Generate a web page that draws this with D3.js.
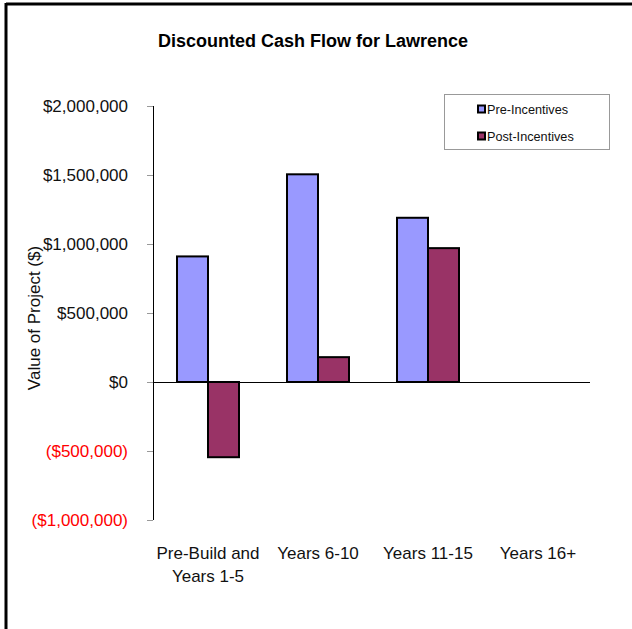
<!DOCTYPE html>
<html>
<head>
<meta charset="utf-8">
<script src="https://cdn.jsdelivr.net/npm/d3@7"></script>
<style>
  body { margin: 0; background: #fff; }
  svg { display: block; font-family: "Liberation Sans", Arial, sans-serif; }
</style>
</head>
<body>
<svg id="chart" width="632" height="629"></svg>
<script>
const categories = [["Pre-Build and", "Years 1-5"], ["Years 6-10"], ["Years 11-15"], ["Years 16+"]];
const seriesNames = ["Pre-Incentives", "Post-Incentives"];
const preIncentives = [910000, 1505000, 1190000, 0];
const postIncentives = [-545000, 180000, 970000, 0];
const yTicks = [-1000000, -500000, 0, 500000, 1000000, 1500000, 2000000];
const colors = ["#9999FF", "#993366"];

const svg = d3.select("#chart");

// outer frame (only top and left edges show)
svg.append("line").attr("x1", 6).attr("x2", 632).attr("y1", 4).attr("y2", 4)
  .attr("stroke", "#000").attr("stroke-width", 3);
svg.append("line").attr("x1", 6).attr("x2", 6).attr("y1", 3).attr("y2", 629)
  .attr("stroke", "#000").attr("stroke-width", 3);

const plot = { left: 153, right: 593, top: 106, bottom: 520 };

const x = d3.scaleBand()
  .domain(d3.range(categories.length))
  .range([plot.left, plot.right]);

const xInner = d3.scaleBand()
  .domain(seriesNames)
  .range([0, 62])
  .paddingInner(0);

const y = d3.scaleLinear()
  .domain([-1000000, 2000000])
  .range([plot.bottom, plot.top]);

// title
svg.append("text")
  .attr("x", 313).attr("y", 47)
  .attr("text-anchor", "middle")
  .attr("font-weight", "bold")
  .attr("font-size", 18)
  .text("Discounted Cash Flow for Lawrence");

// y axis
const fmt = v => {
  const s = "$" + d3.format(",")(Math.abs(v));
  return v < 0 ? "(" + s + ")" : s;
};
const yAxis = svg.append("g")
  .attr("transform", `translate(${plot.left},0)`)
  .call(d3.axisLeft(y).tickValues(yTicks).tickFormat(fmt).tickSize(6).tickPadding(19));
yAxis.select(".domain").attr("stroke", "#000").attr("d", `M0.5,${plot.top}V${plot.bottom}`);
yAxis.selectAll(".tick line").attr("stroke", "#999");
yAxis.selectAll(".tick text")
  .attr("font-size", 17)
  .attr("font-family", "Liberation Sans, Arial, sans-serif")
  .attr("fill", d => d < 0 ? "#FF0000" : "#111");

// y axis title
svg.append("text")
  .attr("transform", `translate(40,${318}) rotate(-90)`)
  .attr("text-anchor", "middle")
  .attr("font-size", 17)
  .attr("fill", "#111")
  .text("Value of Project ($)");

// bars
const rows = categories.map((c, i) => [
  { key: seriesNames[0], i, v: preIncentives[i] },
  { key: seriesNames[1], i, v: postIncentives[i] }
]).flat().filter(d => d.v !== 0);

svg.append("g").selectAll("rect")
  .data(rows)
  .join("rect")
  .attr("x", d => x(d.i) + x.bandwidth() / 2 - 31 + xInner(d.key))
  .attr("width", xInner.bandwidth())
  .attr("y", d => y(Math.max(0, d.v)))
  .attr("height", d => Math.abs(y(d.v) - y(0)))
  .attr("fill", (d) => colors[seriesNames.indexOf(d.key)])
  .attr("stroke", "#000")
  .attr("stroke-width", 2);

// zero line
svg.append("line")
  .attr("x1", plot.left).attr("x2", 590)
  .attr("y1", Math.round(y(0)) + 0.5).attr("y2", Math.round(y(0)) + 0.5)
  .attr("stroke", "#000");

// category labels
const catG = svg.append("g");
categories.forEach((lines, i) => {
  const t = catG.append("text")
    .attr("text-anchor", "middle")
    .attr("font-size", 17)
    .attr("fill", "#111");
  lines.forEach((ln, k) => {
    t.append("tspan")
      .attr("x", x(i) + x.bandwidth() / 2)
      .attr("y", 559 + k * 23)
      .text(ln);
  });
});

// legend
const lg = svg.append("g");
lg.append("rect")
  .attr("x", 444.5).attr("y", 94.5).attr("width", 165).attr("height", 55)
  .attr("fill", "#fff").attr("stroke", "#999");
seriesNames.forEach((name, k) => {
  const cy = 109 + k * 27;
  lg.append("rect")
    .attr("x", 478).attr("y", cy - 3.5).attr("width", 7).attr("height", 7)
    .attr("fill", colors[k]).attr("stroke", "#000").attr("stroke-width", 2);
  lg.append("text")
    .attr("x", 487).attr("y", cy + 4.5)
    .attr("font-size", 12.7)
    .attr("fill", "#111")
    .text(name);
});
</script>
</body>
</html>
